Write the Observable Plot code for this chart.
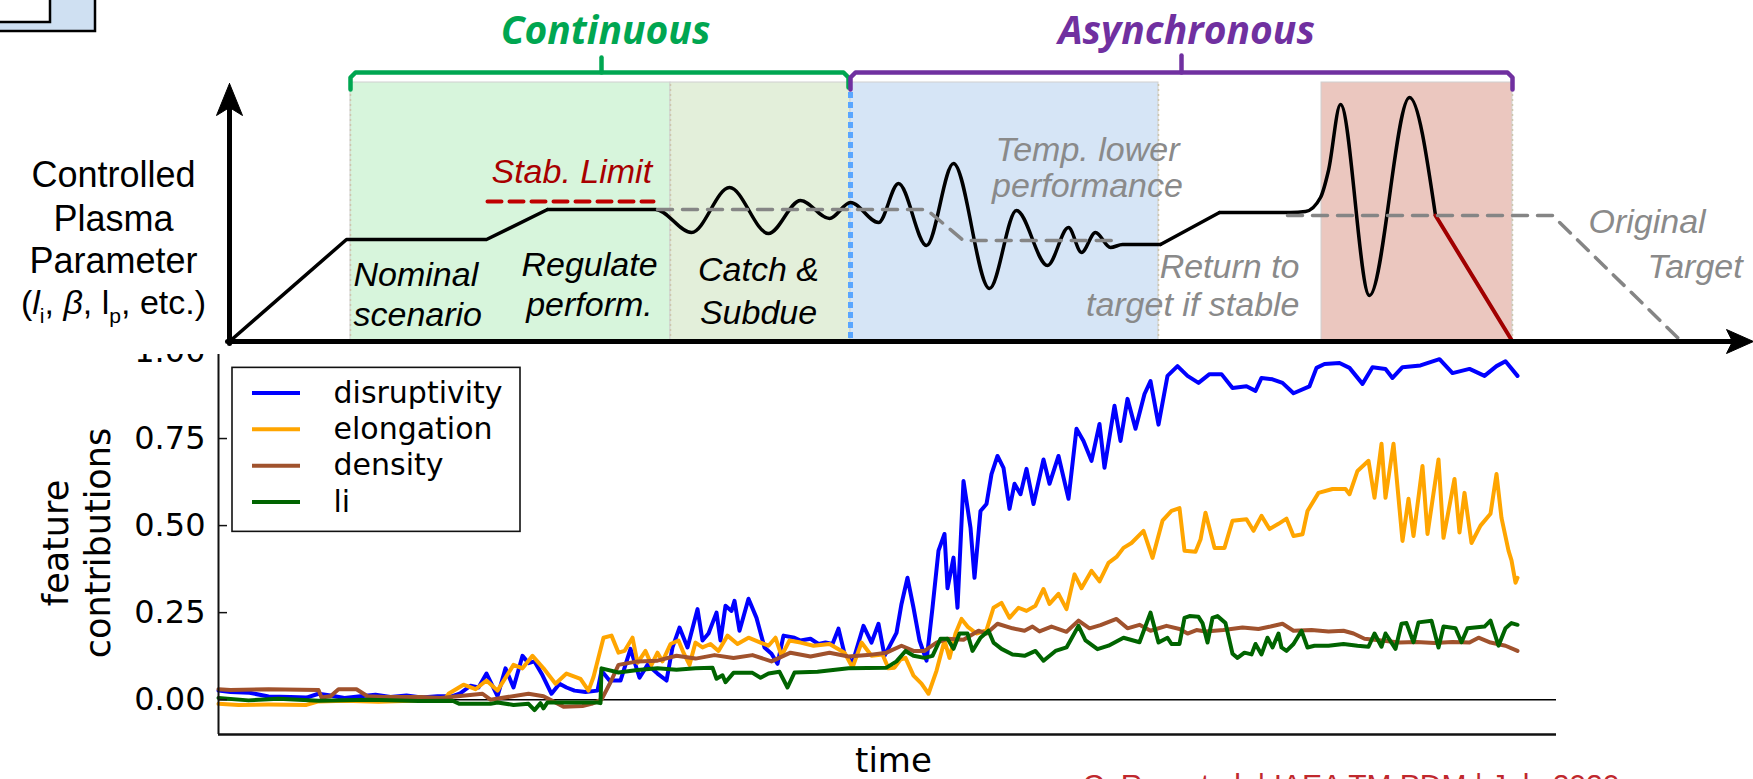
<!DOCTYPE html>
<html>
<head>
<meta charset="utf-8">
<script src="https://cdn.jsdelivr.net/npm/d3@7"></script>
<script src="https://cdn.jsdelivr.net/npm/@observablehq/plot@0.6"></script>
<style>
  html, body { margin: 0; padding: 0; background: #fff; overflow: hidden; }
  #page { position: relative; width: 1753px; height: 779px; overflow: hidden; background: #fff; }
  #schematic { position: absolute; left: 0; top: 0; z-index: 2; }
  #chart { position: absolute; left: 0; top: 330px; z-index: 1; }
</style>
</head>
<body>
<div id="page"><div id="chart"></div><div id="schematic"></div></div>
<script>
// ===================== Schematic: controlled parameter vs time (arbitrary units) =====================
// [time, level] pairs
const trajRamp1 = [[0, 0], [117, 102], [257, 102], [318, 132]];
const trajWave1 = [[318, 132], [426, 132], [462, 109], [500, 154], [539, 108], [571, 141], [600, 123], [621, 139],
  [649, 119], [669, 158], [697, 96], [724, 178], [760, 53], [787, 131], [818, 76], [839, 114], [852, 89],
  [866, 109], [881, 94], [893, 97], [931, 97]];
const trajRamp2 = [[931, 97], [990, 129]];
const trajWave2 = [[990, 129], [1061, 129], [1076, 130], [1091, 144], [1099, 171], [1111, 237], [1140, 46],
  [1180, 244], [1206, 126]];
const disruptionPath = [[1206, 126], [1283, 0]];
const targetA = [[428, 132], [697, 132], [734, 101], [891, 101]];
const targetB = [[1058, 126], [1323, 126], [1452, 0]];
const stabLimit = [[258, 140], [424, 140]];

const stages = [
  {name: "nominal / regulate", t1: 121, t2: 441, fill: "#d7f5dc"},
  {name: "catch & subdue", t1: 441, t2: 621, fill: "#e3efda"},
  {name: "temporary lower performance", t1: 621, t2: 929, fill: "#d6e5f6"},
  {name: "disruption", t1: 1092, t2: 1283, fill: "#ebc7bf"}
];
const stageTop = 259;
const stageEdges = [121, 441, 929, 1283];
const handoff = 621;

const bracketContinuous = [[121, 252], [121, 264], [126, 269], [614, 269], [619, 264], [619, 254]];
const bracketContinuousTick = [[372, 269], [372, 284]];
const bracketAsync = [[621, 252], [621, 264], [626, 269], [1278, 269], [1283, 264], [1283, 252]];
const bracketAsyncTick = [[952, 269], [952, 286]];

const phaseTitles = [
  {text: "Continuous", t: 376, L: 298, color: "#00a651"},
  {text: "Asynchronous", t: 957, L: 298, color: "#7030a0"}
];
const stageLabels = [
  {text: "Nominal", t: 124, L: 56, anchor: "start"},
  {text: "scenario", t: 124, L: 16, anchor: "start"},
  {text: "Regulate", t: 360, L: 66, anchor: "middle"},
  {text: "perform.", t: 360, L: 26, anchor: "middle"},
  {text: "Catch &", t: 529, L: 61, anchor: "middle"},
  {text: "Subdue", t: 529, L: 18, anchor: "middle"}
];
const targetNotes = [
  {text: "Temp. lower", t: 858, L: 181, anchor: "middle"},
  {text: "performance", t: 858, L: 145, anchor: "middle"},
  {text: "Return to", t: 1070, L: 64, anchor: "end"},
  {text: "target if stable", t: 1070, L: 26, anchor: "end"},
  {text: "Original", t: 1359, L: 109, anchor: "start"},
  {text: "Target", t: 1418, L: 64, anchor: "start"}
];
const axisTitle = [
  {text: "Controlled", L: 155},
  {text: "Plasma", L: 111},
  {text: "Parameter", L: 69}
];
const paramNote = "(li, β, lp, etc.)";
const axisTitleT = -116;

const axisUp = [[0, -2], [0, 236]];
const axisRight = [[-2, 0], [1505, 0]];
const headUp = [[0, 258], [-13, 226], [0, 234], [13, 226], [0, 258]];
const headRight = [[1524, 0], [1497, 12], [1503, 0], [1497, -12], [1524, 0]];

// slide fragment in the corner
const cornerBoxes = [
  {t1: -240, t2: -134, L1: 310, L2: 350, fill: "#cfe0f2"},
  {t1: -240, t2: -179, L1: 319, L2: 350, fill: "#ffffff"}
];

const px = d => d[0], py = d => d[1];
const sans = "Liberation Sans, Arial, sans-serif";

// text marks grouped by their horizontal anchor
function anchoredText(data, options) {
  return ["start", "middle", "end"].map(anchor =>
    Plot.text(data.filter(d => d.anchor === anchor), {x: "t", y: "L", text: "text", textAnchor: anchor,
      lineAnchor: "bottom", ...options}));
}

const schematic = Plot.plot({
  width: 1753, height: 354, margin: 0,
  x: {domain: [-229, 1524], axis: null},
  y: {domain: [-13, 341], axis: null},
  style: {background: "white", fontFamily: sans},
  marks: [
    Plot.rect(cornerBoxes, {x1: "t1", x2: "t2", y1: "L1", y2: "L2", fill: "fill", stroke: "black", strokeWidth: 2.5}),
    Plot.rect(stages, {x1: "t1", x2: "t2", y1: 0, y2: stageTop, fill: d => d.fill, stroke: "#cfcfcf", strokeWidth: 1}),
    Plot.ruleX(stageEdges, {y1: 0, y2: stageTop, stroke: "#cdc6ad", strokeWidth: 1.5, strokeDasharray: "2,3"}),
    Plot.ruleX([handoff], {y1: 3, y2: 253, stroke: "#5aa6ff", strokeWidth: 5, strokeDasharray: "6,4"}),
    Plot.line(stabLimit, {x: px, y: py, stroke: "#c00000", strokeWidth: 4, strokeDasharray: "14,8"}),
    ...anchoredText(stageLabels, {fontSize: 34, fontStyle: "italic", fill: "black"}),
    ...anchoredText(targetNotes, {fontSize: 34, fontStyle: "italic", fill: "#8a8a8a"}),
    Plot.text([{text: "Stab. Limit", t: 262, L: 159}], {x: "t", y: "L", text: "text", textAnchor: "start",
      lineAnchor: "bottom", fontSize: 34, fontStyle: "italic", fill: "#a80000"}),
    Plot.line(trajRamp1, {x: px, y: py, stroke: "black", strokeWidth: 3.5, strokeLinejoin: "round"}),
    Plot.line(trajWave1, {x: px, y: py, stroke: "black", strokeWidth: 3.5, curve: "monotone-x"}),
    Plot.line(trajRamp2, {x: px, y: py, stroke: "black", strokeWidth: 3.5}),
    Plot.line(trajWave2, {x: px, y: py, stroke: "black", strokeWidth: 3.5, curve: "monotone-x"}),
    Plot.line(disruptionPath, {x: px, y: py, stroke: "#a00000", strokeWidth: 4}),
    Plot.line(targetA, {x: px, y: py, stroke: "#858585", strokeWidth: 3.5, strokeDasharray: "15,10"}),
    Plot.line(targetB, {x: px, y: py, stroke: "#858585", strokeWidth: 3.5, strokeDasharray: "15,10"}),
    Plot.line(axisUp, {x: px, y: py, stroke: "black", strokeWidth: 5}),
    Plot.line(axisRight, {x: px, y: py, stroke: "black", strokeWidth: 5}),
    Plot.line(headUp, {x: px, y: py, fill: "black", stroke: "black", strokeWidth: 1}),
    Plot.line(headRight, {x: px, y: py, fill: "black", stroke: "black", strokeWidth: 1}),
    Plot.line(bracketContinuous, {x: px, y: py, stroke: "#00a651", strokeWidth: 4.5, strokeLinejoin: "round"}),
    Plot.line(bracketContinuousTick, {x: px, y: py, stroke: "#00a651", strokeWidth: 4.5}),
    Plot.line(bracketAsync, {x: px, y: py, stroke: "#7030a0", strokeWidth: 4.5, strokeLinejoin: "round"}),
    Plot.line(bracketAsyncTick, {x: px, y: py, stroke: "#7030a0", strokeWidth: 4.5}),
    Plot.text(phaseTitles, {x: "t", y: "L", text: "text", fill: d => d.color, lineAnchor: "bottom",
      fontSize: 39, fontWeight: "bold", fontStyle: "italic", fontFamily: "Open Sans, sans-serif"}),
    Plot.text(axisTitle, {x: axisTitleT, y: "L", text: "text", lineAnchor: "bottom", fontSize: 36, fill: "black"}),
    Plot.text([paramNote], {x: axisTitleT, y: 28, text: d => d, lineAnchor: "bottom", fontSize: 34, fill: "black"})
  ]
});

// parameter list with italic symbols and subscripts
d3.select(schematic).selectAll("text")
  .filter(function () { return this.textContent === paramNote; })
  .each(function () {
    const el = d3.select(this);
    el.text(null);
    const parts = [
      {s: "("}, {s: "l", it: true}, {s: "i", sub: true}, {s: ", "}, {s: "β", it: true},
      {s: ", l"}, {s: "p", sub: true}, {s: ", etc.)"}
    ];
    let shifted = false;
    for (const p of parts) {
      const ts = el.append("tspan").text(p.s);
      if (p.it) ts.attr("font-style", "italic");
      if (p.sub) { ts.attr("font-size", "0.62em").attr("dy", 9); shifted = true; }
      else if (shifted) { ts.attr("dy", -9); shifted = false; }
    }
  });

document.getElementById("schematic").appendChild(schematic);

// ===================== Feature contributions vs time =====================
// [time step, contribution] pairs
const disruptivity = [[0,0.026],[12,0.022],[31,0.02],[50,0.009],[72,0.008],[88,0.006],[100,0.017],[112,0.012],
  [126,0.005],[142,0.01],[157,0.014],[172,0.008],[188,0.012],[203,0.006],[219,0.01],[234,0.01],[241,0.017],
  [252,0.04],[260,0.035],[268,0.075],[279,0.01],[287,0.09],[295,0.035],[304,0.126],[310,0.105],[316,0.11],
  [324,0.07],[333,0.017],[341,0.046],[348,0.035],[356,0.026],[367,0.022],[379,0.026],[383,0.083],[391,0.055],
  [402,0.055],[412,0.146],[421,0.063],[429,0.10],[439,0.075],[448,0.055],[454,0.15],[461,0.207],[469,0.15],
  [479,0.26],[484,0.17],[490,0.19],[498,0.25],[502,0.17],[507,0.27],[513,0.255],[516,0.284],[521,0.198],
  [530,0.29],[538,0.235],[546,0.15],[553,0.132],[559,0.103],[565,0.184],[576,0.178],[582,0.17],[592,0.175],
  [600,0.16],[607,0.164],[614,0.16],[620,0.204],[626,0.132],[634,0.106],[645,0.212],[653,0.164],[660,0.218],
  [666,0.126],[678,0.192],[683,0.275],[689,0.35],[695,0.264],[701,0.17],[708,0.112],[714,0.264],[720,0.428],
  [726,0.476],[729,0.32],[735,0.408],[739,0.264],[745,0.628],[752,0.494],[756,0.35],[762,0.542],[768,0.562],
  [773,0.648],[779,0.70],[785,0.666],[791,0.548],[796,0.62],[802,0.59],[808,0.663],[815,0.562],[825,0.69],
  [831,0.62],[840,0.70],[850,0.577],[858,0.778],[865,0.743],[873,0.686],[881,0.792],[886,0.666],[896,0.844],
  [902,0.743],[909,0.864],[917,0.778],[926,0.878],[932,0.915],[940,0.79],[949,0.93],[959,0.958],[969,0.93],
  [980,0.91],[991,0.935],[1003,0.935],[1014,0.895],[1028,0.90],[1037,0.887],[1043,0.924],[1054,0.92],
  [1064,0.91],[1075,0.88],[1091,0.90],[1098,0.953],[1106,0.964],[1121,0.967],[1131,0.953],[1144,0.907],
  [1154,0.955],[1167,0.95],[1174,0.924],[1184,0.955],[1202,0.96],[1221,0.978],[1234,0.938],[1251,0.95],
  [1266,0.93],[1278,0.958],[1287,0.972],[1299,0.93]];

const elongation = [[0,-0.012],[20,-0.015],[50,-0.014],[88,-0.015],[100,-0.005],[126,-0.003],[160,-0.006],
  [200,-0.002],[226,0.0],[230,0.017],[245,0.043],[257,0.03],[268,0.055],[279,0.026],[295,0.10],[304,0.09],
  [314,0.126],[325,0.09],[337,0.046],[348,0.075],[362,0.06],[370,0.026],[375,0.065],[385,0.178],[393,0.184],
  [400,0.135],[406,0.14],[414,0.178],[419,0.106],[427,0.14],[433,0.10],[439,0.135],[444,0.11],[452,0.16],
  [460,0.17],[465,0.135],[471,0.10],[477,0.164],[484,0.15],[492,0.16],[500,0.14],[509,0.184],[519,0.16],
  [530,0.178],[542,0.164],[550,0.155],[557,0.178],[563,0.126],[571,0.17],[582,0.164],[595,0.155],[611,0.16],
  [626,0.135],[634,0.092],[643,0.164],[653,0.126],[664,0.13],[670,0.09],[676,0.092],[682,0.115],[687,0.12],
  [695,0.069],[703,0.046],[710,0.017],[718,0.083],[726,0.17],[731,0.12],[737,0.19],[743,0.232],[749,0.21],
  [758,0.19],[768,0.2],[775,0.264],[783,0.278],[791,0.235],[800,0.264],[808,0.255],[817,0.27],[825,0.318],
  [831,0.275],[840,0.304],[848,0.26],[856,0.36],[863,0.32],[873,0.37],[881,0.34],[890,0.393],[898,0.41],
  [905,0.436],[913,0.45],[925,0.485],[934,0.407],[944,0.514],[953,0.542],[961,0.55],[966,0.428],[977,0.425],
  [982,0.46],[987,0.537],[996,0.436],[1006,0.436],[1014,0.514],[1028,0.518],[1035,0.485],[1043,0.528],
  [1051,0.49],[1060,0.505],[1068,0.52],[1075,0.47],[1084,0.475],[1089,0.542],[1100,0.594],[1114,0.605],
  [1127,0.605],[1131,0.59],[1139,0.657],[1150,0.686],[1156,0.58],[1163,0.735],[1167,0.58],[1175,0.735],
  [1184,0.456],[1190,0.577],[1195,0.47],[1204,0.671],[1209,0.476],[1220,0.69],[1225,0.465],[1236,0.634],
  [1241,0.48],[1246,0.594],[1253,0.45],[1262,0.5],[1272,0.534],[1278,0.648],[1283,0.522],[1290,0.428],
  [1293,0.4],[1297,0.336],[1299,0.35]];

const density = [[0,0.03],[12,0.028],[50,0.03],[100,0.028],[103,0.006],[112,0.01],[120,0.03],[138,0.03],
  [149,0.01],[165,0.008],[203,0.008],[222,0.005],[264,0.017],[272,0.0],[310,0.017],[325,0.01],[345,-0.02],
  [364,-0.018],[373,-0.012],[383,0.0],[392,0.05],[400,0.1],[419,0.11],[439,0.112],[458,0.126],[477,0.118],
  [496,0.128],[515,0.12],[534,0.128],[553,0.11],[572,0.135],[592,0.124],[611,0.135],[630,0.124],[649,0.128],
  [668,0.135],[683,0.155],[695,0.14],[706,0.14],[718,0.164],[729,0.175],[745,0.172],[760,0.198],[768,0.19],
  [779,0.218],[794,0.205],[806,0.198],[814,0.21],[821,0.196],[833,0.21],[848,0.195],[860,0.227],[871,0.205],
  [882,0.214],[898,0.232],[909,0.205],[921,0.215],[932,0.198],[948,0.212],[961,0.203],[969,0.19],[978,0.2],
  [987,0.196],[1005,0.2],[1024,0.207],[1040,0.203],[1052,0.21],[1064,0.218],[1075,0.198],[1093,0.2],
  [1110,0.196],[1125,0.198],[1135,0.19],[1146,0.175],[1163,0.17],[1181,0.164],[1198,0.166],[1216,0.163],
  [1234,0.166],[1251,0.164],[1260,0.178],[1272,0.164],[1287,0.155],[1299,0.14]];

const li = [[0,0.005],[30,-0.002],[60,0.003],[100,-0.003],[150,0.0],[200,-0.004],[234,-0.003],[241,-0.012],
  [272,-0.012],[279,-0.008],[295,-0.015],[310,-0.012],[316,-0.03],[322,-0.01],[325,-0.025],[329,-0.008],
  [348,-0.008],[379,-0.008],[382,-0.01],[383,0.09],[400,0.078],[419,0.085],[439,0.09],[458,0.086],[477,0.09],
  [494,0.092],[498,0.06],[504,0.07],[507,0.05],[515,0.077],[534,0.077],[542,0.063],[550,0.075],[561,0.08],
  [569,0.035],[576,0.078],[599,0.08],[630,0.09],[668,0.092],[678,0.11],[687,0.14],[695,0.126],[706,0.12],
  [714,0.126],[722,0.175],[729,0.175],[735,0.146],[741,0.19],[749,0.19],[754,0.14],[762,0.178],[770,0.198],
  [775,0.164],[783,0.146],[794,0.13],[806,0.126],[817,0.14],[825,0.112],[837,0.14],[848,0.15],[860,0.212],
  [867,0.17],[879,0.145],[890,0.155],[905,0.178],[921,0.165],[932,0.25],[940,0.164],[949,0.178],[953,0.16],
  [961,0.16],[966,0.235],[971,0.24],[980,0.238],[984,0.22],[989,0.164],[994,0.235],[999,0.24],[1007,0.22],
  [1014,0.132],[1019,0.12],[1026,0.135],[1033,0.13],[1037,0.16],[1043,0.13],[1049,0.178],[1054,0.15],
  [1060,0.19],[1063,0.15],[1068,0.14],[1075,0.16],[1083,0.198],[1089,0.15],[1096,0.155],[1110,0.155],
  [1125,0.16],[1139,0.155],[1150,0.152],[1156,0.19],[1163,0.152],[1167,0.19],[1177,0.146],[1183,0.218],
  [1188,0.22],[1195,0.165],[1200,0.222],[1213,0.227],[1220,0.15],[1225,0.21],[1237,0.205],[1243,0.165],
  [1249,0.205],[1266,0.21],[1272,0.227],[1280,0.155],[1287,0.205],[1293,0.22],[1299,0.215]];

const seriesNames = ["disruptivity", "elongation", "density", "li"];
const seriesColors = ["#0000ff", "#ffa500", "#a0522d", "#006400"];
const seriesData = [disruptivity, elongation, density, li];

const yTicks = [0, 0.25, 0.5, 0.75, 1.0];
const timeDomain = [0, 1338];
const footer = "C. Rea et al. | IAEA TM PDM | July 2020";

const legendRows = seriesNames.map((name, i) => ({name, color: seriesColors[i], v: 0.881 - i * 0.1045}));

const chart = Plot.plot({
  width: 1753, height: 449,
  marginLeft: 218, marginRight: 197, marginTop: 21, marginBottom: 45,
  x: {domain: timeDomain, axis: null},
  y: {domain: [-0.1, 1.0], axis: null},
  style: {background: "white", fontFamily: "DejaVu Sans, sans-serif", color: "black"},
  marks: [
    Plot.ruleY([0], {stroke: "black", strokeWidth: 1.6}),
    ...seriesData.map((pts, i) => Plot.line(pts, {x: px, y: py, stroke: seriesColors[i], strokeWidth: 4,
      strokeLinejoin: "round"})),
    Plot.ruleY([-0.1], {stroke: "#111", strokeWidth: 2.6}),
    Plot.ruleX([0], {y1: -0.1, y2: 1.0, stroke: "#111", strokeWidth: 2}),
    Plot.ruleY(yTicks, {y: d => d, x1: 0, x2: 9, stroke: "#111", strokeWidth: 1.5}),
    Plot.text(yTicks, {x: 0, y: d => d, text: d => d.toFixed(2), textAnchor: "end", dx: -13, fontSize: 32,
      lineAnchor: "middle", fill: "black"}),
    Plot.rect([0], {x1: 14, x2: 302, y1: 0.482, y2: 0.953, fill: "white", stroke: "#111", strokeWidth: 1.6}),
    Plot.ruleY(legendRows, {y: "v", x1: 34, x2: 82, stroke: d => d.color, strokeWidth: 4}),
    Plot.text(legendRows, {x: 115, y: "v", text: "name", textAnchor: "start", lineAnchor: "middle",
      fontSize: 30, fill: "black"}),
    Plot.text(["feature"], {x: -151, y: 0.45, text: d => d, rotate: -90, lineAnchor: "bottom", fontSize: 35,
      fill: "black"}),
    Plot.text(["contributions"], {x: -109, y: 0.45, text: d => d, rotate: -90, lineAnchor: "bottom",
      fontSize: 35, fill: "black"}),
    Plot.text(["time"], {x: 675, y: -0.207, text: d => d, lineAnchor: "bottom", fontSize: 34, fill: "black"}),
    Plot.text([footer], {x: 864, y: -0.274, text: d => d, textAnchor: "start", lineAnchor: "bottom",
      fontSize: 30, fill: "#c0282d", fontFamily: "Liberation Sans, Arial, sans-serif"})
  ]
});
document.getElementById("chart").appendChild(chart);
</script>
</body>
</html>
